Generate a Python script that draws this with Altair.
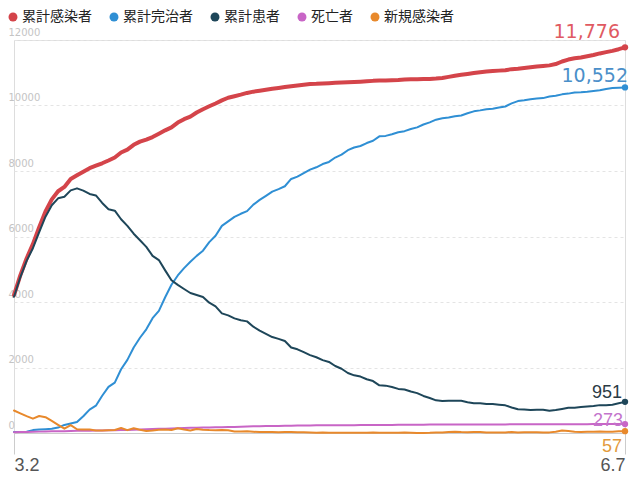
import json
import altair as alt
import pandas as pd

# ---- data -------------------------------------------------------------
dates = pd.date_range("2020-03-02", "2020-06-07", freq="D")
date_labels = [f"{d.month}.{d.day}" for d in dates]

series_names = ["累計感染者", "累計完治者", "累計患者", "死亡者", "新規感染者"]

confirmed = [
    4212, 4812, 5328, 5766, 6284, 6767, 7134, 7382, 7513, 7755,
    7869, 7979, 8086, 8162, 8236, 8320, 8413, 8565, 8652, 8799,
    8897, 8961, 9037, 9137, 9241, 9332, 9478, 9583, 9661, 9786,
    9887, 9976, 10062, 10156, 10237, 10284, 10331, 10384, 10423, 10450,
    10480, 10512, 10537, 10564, 10591, 10613, 10635, 10653, 10661, 10674,
    10683, 10694, 10702, 10708, 10718, 10728, 10738, 10752, 10761, 10765,
    10774, 10780, 10793, 10801, 10804, 10806, 10810, 10822, 10840, 10874,
    10909, 10936, 10962, 10991, 11018, 11037, 11050, 11065, 11078, 11110,
    11122, 11142, 11165, 11190, 11206, 11225, 11265, 11344, 11402, 11441,
    11468, 11503, 11541, 11590, 11629, 11668, 11719, 11776,
]
recovered = [
    30, 30, 41, 88, 108, 118, 130, 166, 247, 288,
    333, 510, 714, 834, 1137, 1407, 1540, 1947, 2233, 2612,
    2909, 3166, 3507, 3730, 4144, 4528, 4811, 5033, 5228, 5408,
    5567, 5828, 6021, 6325, 6463, 6598, 6694, 6776, 6973, 7117,
    7243, 7368, 7447, 7534, 7757, 7829, 7937, 8042, 8114, 8213,
    8277, 8411, 8501, 8635, 8717, 8764, 8854, 8922, 9059, 9072,
    9123, 9183, 9217, 9283, 9333, 9419, 9484, 9568, 9610, 9632,
    9671, 9695, 9762, 9821, 9851, 9888, 9904, 9938, 9970, 10066,
    10135, 10162, 10194, 10213, 10226, 10275, 10295, 10340, 10363, 10398,
    10405, 10422, 10446, 10467, 10506, 10531, 10540, 10552,
]
active = [
    4160, 4754, 5255, 5643, 6134, 6605, 6954, 7165, 7212, 7407,
    7470, 7402, 7300, 7253, 7024, 6832, 6789, 6527, 6325, 6085,
    5884, 5684, 5410, 5281, 4966, 4665, 4523, 4398, 4275, 4216,
    4155, 3979, 3867, 3654, 3591, 3500, 3445, 3408, 3246, 3125,
    3026, 2930, 2873, 2808, 2609, 2555, 2468, 2379, 2313, 2225,
    2169, 2045, 1961, 1833, 1761, 1722, 1641, 1586, 1456, 1446,
    1403, 1347, 1326, 1266, 1217, 1132, 1070, 998, 974, 986,
    982, 983, 941, 910, 907, 887, 884, 864, 845, 780,
    723, 716, 705, 711, 713, 681, 701, 735, 770, 773,
    793, 810, 823, 851, 850, 864, 906, 951,
]
deaths = [
    22, 28, 32, 35, 42, 44, 50, 51, 54, 60,
    66, 67, 72, 75, 75, 81, 84, 91, 94, 102,
    104, 111, 120, 126, 131, 139, 144, 152, 158, 162,
    165, 169, 174, 177, 183, 186, 192, 200, 204, 208,
    211, 214, 217, 222, 225, 229, 230, 232, 234, 236,
    237, 238, 240, 240, 240, 242, 243, 244, 246, 247,
    248, 250, 250, 252, 254, 255, 256, 256, 256, 256,
    256, 258, 259, 260, 260, 262, 262, 263, 263, 264,
    264, 264, 266, 266, 267, 269, 269, 269, 269, 270,
    270, 271, 272, 272, 273, 273, 273, 273,
]
new_cases = [
    686, 600, 516, 438, 518, 483, 367, 248, 131, 242,
    114, 110, 107, 76, 74, 84, 93, 152, 87, 147,
    98, 64, 76, 100, 104, 91, 146, 105, 78, 125,
    101, 89, 86, 94, 81, 47, 47, 53, 39, 27,
    30, 32, 25, 27, 27, 22, 22, 18, 8, 13,
    9, 11, 8, 6, 10, 10, 10, 14, 9, 4,
    9, 6, 13, 8, 3, 2, 4, 12, 18, 34,
    35, 27, 26, 29, 27, 19, 13, 15, 13, 32,
    12, 20, 23, 25, 16, 19, 40, 79, 58, 39,
    27, 35, 38, 49, 39, 39, 51, 57,
]

y_ticks = [0, 2000, 4000, 6000, 8000, 10000, 12000]

# ---- styles -----------------------------------------------------------
line_colors = ["#d4444a", "#2f8fd4", "#1e4659", "#c865c6", "#e8892c"]
label_colors = ["#e05a62", "#4a8fc9", "#2b3a44", "#c374cc", "#e39a3c"]
label_fonts = ["DejaVu Sans", "DejaVu Sans",
               "Liberation Sans Narrow, Liberation Sans",
               "Liberation Sans Narrow, Liberation Sans",
               "Liberation Sans Narrow, Liberation Sans"]
label_sizes = [19, 19, 18, 18, 18]
label_dx = [-5, 3, -3, -2, -3]
label_dy = [-9, -5, -4, 2, 21]

# ---- table ------------------------------------------------------------
all_series = [confirmed, recovered, active, deaths, new_cases]
rows = []
for name, vals in zip(series_names, all_series):
    for i, v in enumerate(vals):
        rows.append({"day": i, "series": name, "value": v})
df = pd.DataFrame(rows)
n_days = len(date_labels)
last_df = df[df["day"] == n_days - 1]

x_scale = alt.Scale(domain=[0, n_days - 1], nice=False, zero=False)
y_scale = alt.Scale(domain=[0, 12000], nice=False)

label_expr = json.dumps(date_labels) + "[datum.value]"

x_enc = alt.X(
    "day:Q", scale=x_scale,
    axis=alt.Axis(
        values=[0, n_days - 1], labelExpr=label_expr, title=None,
        grid=False, tickSize=21, tickColor="#cccccc", domainColor="#cccccc",
        labelFlush=True, labelFont="Liberation Sans Narrow, Liberation Sans",
        labelFontSize=18, labelColor="#555555", labelPadding=2,
    ),
)
y_enc = alt.Y(
    "value:Q", scale=y_scale,
    axis=alt.Axis(
        values=y_ticks, title=None, format="d", orient="left",
        ticks=False, tickSize=0, domain=False,
        labelAlign="left", labelBaseline="alphabetic", labelOffset=-5,
        labelPadding=6, labelFont="DejaVu Sans", labelFontSize=10,
        labelColor="#c4c4c4", grid=True, gridColor="#e4e4e4", gridDash=[3, 3],
    ),
)

lines = alt.Chart(df).mark_line(strokeJoin="round", strokeCap="round").encode(
    x=x_enc,
    y=y_enc,
    color=alt.Color(
        "series:N",
        scale=alt.Scale(domain=series_names, range=line_colors),
        legend=alt.Legend(
            title=None, orient="none", legendX=-8, legendY=-30,
            direction="horizontal", columns=5,
            symbolType="circle", symbolSize=80, symbolStrokeWidth=0,
            symbolOpacity=1,
            labelFont="Noto Sans CJK JP", labelFontSize=14, labelColor="#222222",
            labelOffset=2, columnPadding=15, padding=0, labelLimit=200,
        ),
    ),
    strokeWidth=alt.condition(alt.datum.series == series_names[0],
                              alt.value(4), alt.value(2)),
)

points = alt.Chart(last_df).mark_circle(size=40, opacity=1).encode(
    x=alt.X("day:Q", scale=x_scale),
    y=alt.Y("value:Q", scale=y_scale),
    color=alt.Color("series:N"),
)

texts = []
for k, name in enumerate(series_names):
    t = alt.Chart(last_df[last_df["series"] == name]).mark_text(
        align="right", baseline="alphabetic", dx=label_dx[k], dy=label_dy[k],
        font=label_fonts[k], fontSize=label_sizes[k], color=label_colors[k],
    ).encode(
        x=alt.X("day:Q", scale=x_scale),
        y=alt.Y("value:Q", scale=y_scale),
        text=alt.Text("value:Q", format=","),
    )
    texts.append(t)

chart = alt.layer(lines, points, *texts).properties(
    width=611, height=393,
    autosize=alt.AutoSizeParams(type="none"),
    padding={"left": 6, "top": 32, "right": 7, "bottom": 40},
).configure_view(strokeWidth=0).configure(background="white")

chart.save("out.html", embed_options={"renderer": "svg", "actions": False})
